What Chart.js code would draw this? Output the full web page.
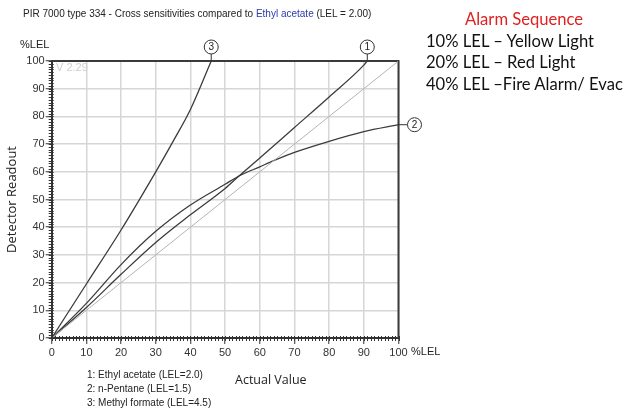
<!DOCTYPE html>
<html>
<head>
<meta charset="utf-8">
<script src="https://cdn.jsdelivr.net/npm/chart.js@4.4.1/dist/chart.umd.min.js"></script>
<style>
  html, body { margin: 0; padding: 0; background: #fff; }
  #wrap { position: relative; width: 628px; height: 412px; overflow: hidden; }
  #chart { position: absolute; left: 0; top: 0; }
  .txt { position: absolute; white-space: nowrap; color: #222; font-family: "Liberation Sans", Arial, sans-serif; }
  .alarm { font-family: Lato, "Open Sans", sans-serif; font-size: 16.6px; color: #111; }
</style>
</head>
<body>
<div id="wrap">
  <canvas id="chart" width="628" height="412"></canvas>

  <div class="txt" style="left:23px; top:8px; font-size:10px;">PIR 7000 type 334 - Cross sensitivities compared to <span style="color:#2b3aa8">Ethyl acetate</span> (LEL = 2.00)</div>
  <div class="txt" style="left:20px; top:38px; font-size:11px;">%LEL</div>
  <div class="txt" style="left:56px; top:61px; font-size:11px; color:#cfcfcf;">V 2.29</div>
  <div class="txt" style="left:411px; top:345px; font-size:11px;">%LEL</div>
  <div class="txt" style="left:235px; top:371px; font-size:12.5px; font-family:'Open Sans', sans-serif;">Actual Value</div>

  <div class="txt" style="left:87px; top:368px; font-size:10px; line-height:14px;">
    1: Ethyl acetate (LEL=2.0)<br>2: n-Pentane (LEL=1.5)<br>3: Methyl formate (LEL=4.5)
  </div>

  <div class="txt alarm" style="left:465px; top:9px; color:#e02020;">Alarm Sequence</div>
  <div class="txt alarm" style="left:426px; top:31px;">10% LEL – Yellow Light</div>
  <div class="txt alarm" style="left:426px; top:52px;">20% LEL – Red Light</div>
  <div class="txt alarm" style="left:426px; top:74px;">40% LEL –Fire Alarm/ Evac</div>
</div>

<script>
// actual value (%LEL) vs detector readout (%LEL)
const actualEthyl = [0, 10, 20, 30, 40, 50, 54, 60, 70, 80, 90, 91];
const readEthyl   = [0, 11, 23, 34.5, 44.5, 54, 58.5, 65, 76, 87, 98.5, 100];

const actualPentane = [0, 10, 20, 30, 40, 50, 54, 60, 64, 70, 80, 90, 100];
const readPentane   = [0, 12.5, 26.5, 38.5, 48, 55.5, 58.5, 61.8, 64, 67, 71, 74.5, 77];

const actualFormate = [0, 10, 20, 30, 35, 40, 46];
const readFormate   = [0, 19.5, 39, 60, 71, 82.5, 100];

const actualRef = [0, 100];
const readRef   = [0, 100];

const tickValues = [0, 10, 20, 30, 40, 50, 60, 70, 80, 90, 100];

function pts(xs, ys) {
  return xs.map((x, i) => ({ x: x, y: ys[i] }));
}

// circled curve numbers + leader lines, outside the plot area
const markers = {
  id: 'markers',
  afterDatasetsDraw(chart) {
    const ctx = chart.ctx;
    const area = chart.chartArea;
    const list = [
      { ds: 1, label: '1', dir: 'up' },
      { ds: 2, label: '2', dir: 'right' },
      { ds: 3, label: '3', dir: 'up' },
    ];
    ctx.save();
    ctx.strokeStyle = '#333';
    ctx.lineWidth = 1;
    list.forEach(m => {
      const meta = chart.getDatasetMeta(m.ds);
      const last = meta.data[meta.data.length - 1];
      let cx, cy;
      ctx.beginPath();
      ctx.moveTo(last.x, last.y);
      if (m.dir === 'up') {
        cx = last.x; cy = area.top - 14;
        ctx.lineTo(cx, cy + 7);
      } else {
        cx = area.right + 16; cy = last.y;
        ctx.lineTo(cx - 7, cy);
      }
      ctx.stroke();
      ctx.beginPath();
      ctx.arc(cx, cy, 7, 0, Math.PI * 2);
      ctx.fillStyle = '#fff';
      ctx.fill();
      ctx.stroke();
      ctx.fillStyle = '#222';
      ctx.font = '10px "Liberation Sans", Arial';
      ctx.textAlign = 'center';
      ctx.textBaseline = 'middle';
      ctx.fillText(m.label, cx, cy + 0.5);
    });
    ctx.restore();
  }
};

// frame on top/right and the small 1-unit ticks on both axes
const frame = {
  id: 'frame',
  beforeDatasetsDraw(chart) {
    const ctx = chart.ctx;
    const a = chart.chartArea;
    ctx.save();
    ctx.strokeStyle = '#3a3a3a';
    ctx.lineWidth = 2;
    ctx.beginPath();
    ctx.moveTo(a.left, a.top);
    ctx.lineTo(a.right, a.top);
    ctx.lineTo(a.right, a.bottom);
    ctx.stroke();
    ctx.restore();
  },
  afterDraw(chart) {
    const ctx = chart.ctx;
    const a = chart.chartArea;
    const xs = chart.scales.x, ys = chart.scales.y;
    ctx.save();
    ctx.strokeStyle = '#333';
    ctx.lineWidth = 1;
    ctx.beginPath();
    for (let v = 0; v <= 100; v++) {
      const py = Math.round(ys.getPixelForValue(v)) + 0.5;
      ctx.moveTo(a.left - 3, py);
      ctx.lineTo(a.left + 2, py);
      const px = Math.round(xs.getPixelForValue(v)) + 0.5;
      ctx.moveTo(px, a.bottom - 2);
      ctx.lineTo(px, a.bottom + 3);
    }
    ctx.stroke();
    ctx.restore();
  }
};

const lineStyle = { showLine: true, pointRadius: 0, borderWidth: 1.3, borderColor: '#3c3c3c', fill: false, cubicInterpolationMode: 'monotone' };

new Chart(document.getElementById('chart'), {
  type: 'scatter',
  data: {
    datasets: [
      { label: 'reference', data: pts(actualRef, readRef), showLine: true, pointRadius: 0, borderWidth: 1, borderColor: '#b4b4b4' },
      Object.assign({ label: '1: Ethyl acetate (LEL=2.0)', data: pts(actualEthyl, readEthyl) }, lineStyle),
      Object.assign({ label: '2: n-Pentane (LEL=1.5)', data: pts(actualPentane, readPentane) }, lineStyle),
      Object.assign({ label: '3: Methyl formate (LEL=4.5)', data: pts(actualFormate, readFormate) }, lineStyle),
    ]
  },
  options: {
    responsive: false,
    animation: false,
    layout: { padding: { left: 0, top: 61, right: 229.5, bottom: 0 } },
    plugins: { legend: { display: false }, tooltip: { enabled: false } },
    scales: {
      x: {
        type: 'linear', min: 0, max: 100,
        afterFit: s => { s.height = 74; },
        afterBuildTicks: s => { s.ticks = tickValues.map(v => ({ value: v })); },
        ticks: { font: { size: 11, family: '"Liberation Sans", Arial' }, color: '#333', padding: 2, maxRotation: 0 },
        grid: { color: '#d6d6d6', lineWidth: 1.5, tickLength: 6, tickColor: '#333', tickWidth: 1 },
        border: { color: '#333', width: 2 }
      },
      y: {
        type: 'linear', min: 0, max: 100,
        afterFit: s => { s.width = 51.7; },
        afterBuildTicks: s => { s.ticks = tickValues.map(v => ({ value: v })); },
        ticks: { font: { size: 11, family: '"Liberation Sans", Arial' }, color: '#333', padding: 1 },
        grid: { color: '#d6d6d6', lineWidth: 1.5, tickLength: 6, tickColor: '#333', tickWidth: 1 },
        border: { color: '#333', width: 2 },
        title: { display: true, text: 'Detector Readout', color: '#222', font: { size: 13, family: '"Open Sans", sans-serif' }, padding: { top: 4, bottom: 0 } }
      }
    }
  },
  plugins: [frame, markers]
});
</script>
</body>
</html>
